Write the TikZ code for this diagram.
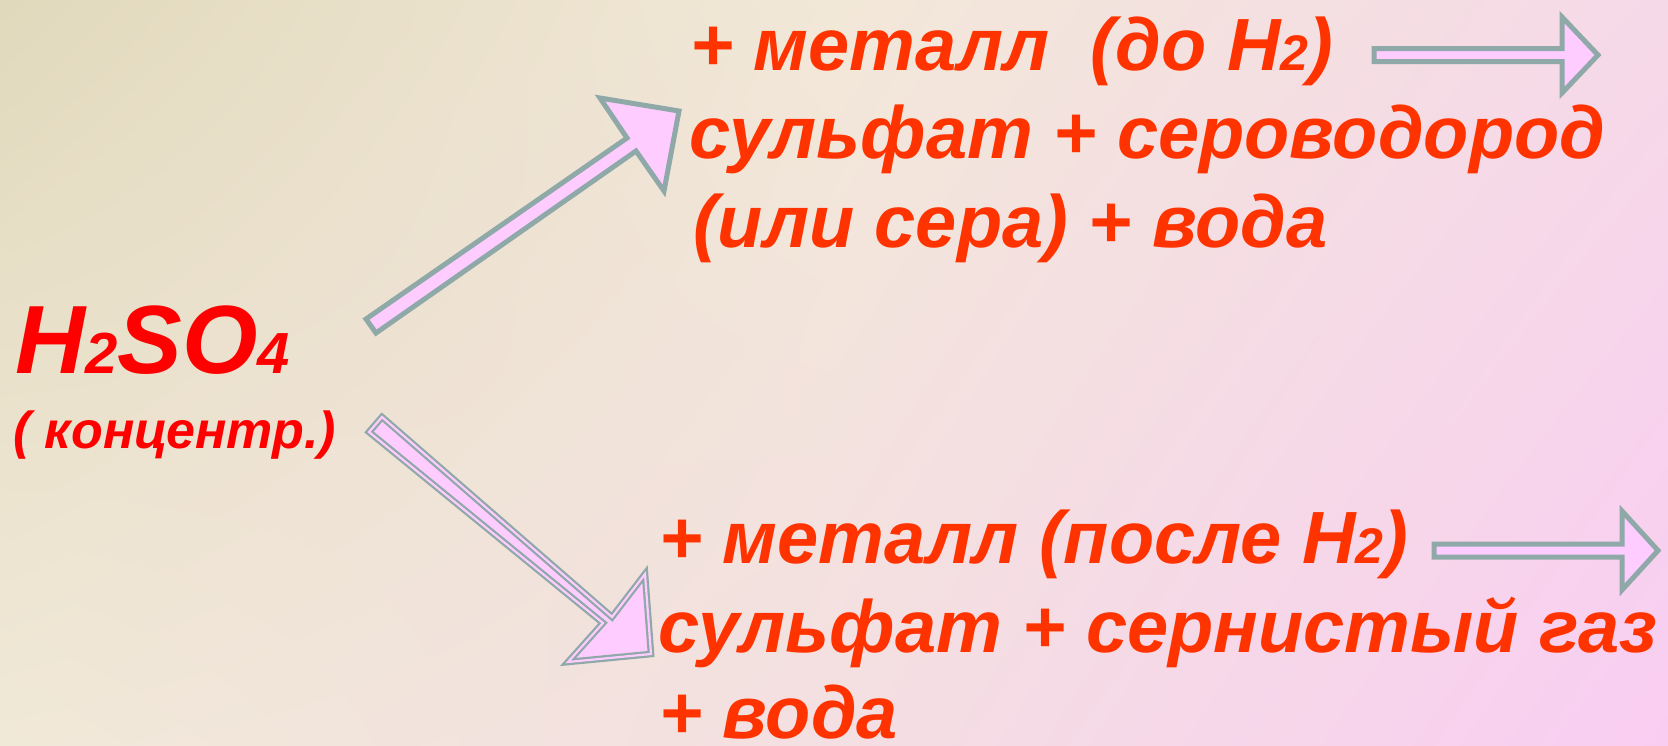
\documentclass[tikz,border=0pt]{standalone}
\usepackage{fontspec}
\setmainfont{Liberation Sans}
\usetikzlibrary{shadings}
\definecolor{bgTL}{HTML}{E1D9BC}
\definecolor{bgTM}{HTML}{F2E8D8}
\definecolor{bgTR}{HTML}{F6D9E8}
\definecolor{bgBL}{HTML}{F1E9D8}
\definecolor{bgBM}{HTML}{F4DFE2}
\definecolor{bgBR}{HTML}{F9CDF2}
\definecolor{acidred}{HTML}{FF0000}
\definecolor{prodred}{HTML}{FF3300}
\definecolor{arrowfill}{HTML}{FFCCFF}
\definecolor{arrowline}{HTML}{8FA8A8}
\newcommand\idx[2]{{\fontsize{#1}{#1}\selectfont #2}}

\begin{document}
\begin{tikzpicture}[x=1pt, y=-1pt,
   every node/.style={inner sep=0pt, anchor=base west},
   acid/.style={text=acidred, font={\fontsize{97}{97}\selectfont\bfseries\itshape}},
   acidnote/.style={text=acidred, font={\fontsize{52}{52}\selectfont\bfseries\itshape}},
   product/.style={text=prodred, font={\fontsize{74}{88}\selectfont\bfseries\itshape}},
   blockarrow/.style={fill=arrowfill, draw=arrowline, line width=5pt, line join=miter},
   hollowarrow/.style={fill=arrowfill, draw=arrowline, line width=2.2pt,
      double=arrowfill, double distance=2.2pt, line join=miter}]
\useasboundingbox (0,0) rectangle (1668,745);
\shade[upper left=bgTL, upper right=bgTM, lower left=bgBL, lower right=bgBM]
   (0,0) rectangle (835,745);
\shade[upper left=bgTM, upper right=bgTR, lower left=bgBM, lower right=bgBR]
   (834,0) rectangle (1668,745);

\node[acid] (acid) at (15,373) {H\idx{58}{2}SO\idx{58}{4}};
\node[acidnote] (cond) at (13,448) {( концентр.)};

\node[product] (up1) at (690,70)  {+ металл~ (до H\idx{50}{2})};
\node[product] (up2) at (689,158) {сульфат + сероводород};
\node[product] (up3) at (693,247) {(или сера) + вода};

\node[product] (dn1) at (659,563) {+ металл (после H\idx{50}{2})};
\node[product] (dn2) at (658,652) {сульфат + сернистый газ};
\node[product] (dn3) at (659,738) {+ вода};

\draw[blockarrow] (366,319) -- (627,138) -- (600,98) -- (679,111) -- (664,191)
   -- (636,151) -- (376,333) -- cycle;
\draw[hollowarrow] (382,417) -- (612,617) -- (645,574) -- (651,654) -- (568,662)
   -- (603,623) -- (369,432) -- cycle;
\draw[blockarrow] (1374,48.5) -- (1562,48.5) -- (1562,17) -- (1598,55) -- (1562,93)
   -- (1562,61.5) -- (1374,61.5) -- cycle;
\draw[blockarrow] (1434,544) -- (1622,544) -- (1622,511) -- (1658,550.5) -- (1622,590)
   -- (1622,557) -- (1434,557) -- cycle;
\end{tikzpicture}
\end{document}
